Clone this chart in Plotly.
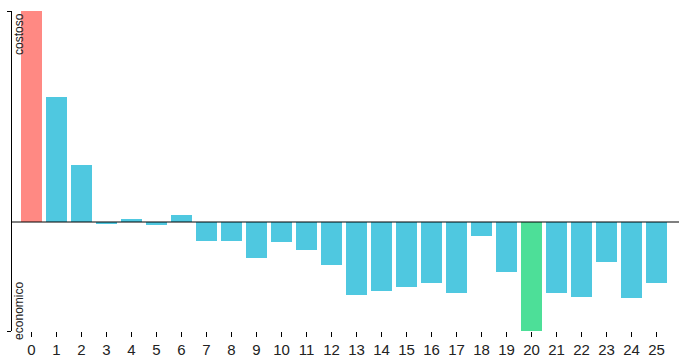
import plotly.graph_objects as go

categories = [str(i) for i in range(26)]
values = [211, 125, 57, -2, 3, -3, 7, -19, -19, -36, -20, -28, -43, -73, -69,
          -65, -61, -71, -14, -50, -109, -71, -75, -40, -76, -61]
highlight_max = 0
highlight_min = 20
color_base = "#4fc8e0"
color_max = "#ff8983"
color_min = "#4ddf98"
label_top = "costoso"
label_bottom = "economico"

colors = []
for i in range(len(values)):
    if i == highlight_max:
        colors.append(color_max)
    elif i == highlight_min:
        colors.append(color_min)
    else:
        colors.append(color_base)

vmin, vmax = min(values), max(values)

fig = go.Figure(go.Bar(
    x=list(range(len(values))), y=values, marker_color=colors,
    marker_line_width=0, hoverinfo="skip"))

fig.update_layout(
    width=685, height=364,
    margin=dict(l=12, r=6, t=11, b=33, autoexpand=False),
    paper_bgcolor="white", plot_bgcolor="white",
    bargap=0.16, showlegend=False,
    font=dict(family="Liberation Sans, Arial, sans-serif", color="#222"),
    xaxis=dict(range=[-0.78, 25.9], tickmode="array",
               tickvals=list(range(len(categories))), ticktext=categories,
               ticks="outside", ticklen=5, tickcolor="#000", tickwidth=1,
               showgrid=False, zeroline=False, showline=False,
               tickfont=dict(size=15, color="#222")),
    yaxis=dict(range=[vmin, vmax], tickmode="array", tickvals=[vmin, vmax],
               showticklabels=False, ticks="outside", ticklen=4,
               tickcolor="#000", showgrid=False, zeroline=False,
               showline=True, linecolor="#000", linewidth=1),
    shapes=[dict(type="line", xref="paper", yref="y", x0=0, x1=1, y0=0, y1=0,
                 line=dict(color="#000", width=1))],
    annotations=[
        dict(text=label_top, textangle=-90, xref="paper", yref="paper",
             x=0.0105, y=1, xanchor="center", yanchor="top",
             showarrow=False, font=dict(size=12, color="#222")),
        dict(text=label_bottom, textangle=-90, xref="paper", yref="paper",
             x=0.0105, y=-0.034, xanchor="center", yanchor="bottom",
             showarrow=False, font=dict(size=12, color="#222")),
    ],
)

fig.write_html("out.html", config={"displayModeBar": False},
               post_script="document.body.style.margin='0';document.body.style.overflow='hidden';")
